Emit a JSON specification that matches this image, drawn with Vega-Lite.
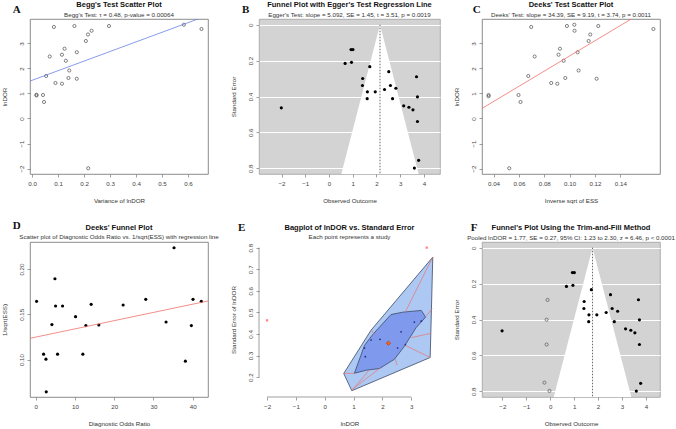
{
  "$schema": "https://vega.github.io/schema/vega-lite/v6.json",
  "padding": 0,
  "background": "white",
  "config": {
    "font": "Liberation Sans",
    "view": {"stroke": "#6e6e6e", "strokeWidth": 0.8},
    "axis": {"grid": false, "domain": false, "tickCount": 20, "labelFontSize": 6.2, "titleFontSize": 6.2, "titleFontWeight": "normal", "labelColor": "#444", "titleColor": "#333", "tickColor": "#777", "domainColor": "#777", "domainWidth": 0.7, "tickSize": 3, "tickWidth": 0.7, "labelPadding": 3, "titlePadding": 11, "labelFlush": false, "labelOverlap": false, "labelBound": false},
    "axisY": {"labelAngle": 270, "labelAlign": "center", "labelBaseline": "bottom"},
    "title": {"fontSize": 7.5, "fontWeight": "bold", "subtitleFontSize": 6.2, "subtitlePadding": 3, "offset": -13.7, "frame": "group", "anchor": "middle", "color": "#111", "subtitleColor": "#333", "font": "Liberation Sans", "subtitleFont": "Liberation Sans"}
  },
  "datasets": {
    "study": [
      {"lnDOR": -2.01, "se": 0.462}, {"lnDOR": 0.93, "se": 0.138}, {"lnDOR": 1.01, "se": 0.138}, {"lnDOR": 0.68, "se": 0.215},
      {"lnDOR": 0.95, "se": 0.209}, {"lnDOR": 1.72, "se": 0.233}, {"lnDOR": 1.42, "se": 0.299}, {"lnDOR": 1.41, "se": 0.338},
      {"lnDOR": 1.62, "se": 0.373}, {"lnDOR": 1.61, "se": 0.411}, {"lnDOR": 1.95, "se": 0.373}, {"lnDOR": 2.34, "se": 0.360},
      {"lnDOR": 2.52, "se": 0.261}, {"lnDOR": 2.59, "se": 0.338}, {"lnDOR": 2.68, "se": 0.411}, {"lnDOR": 2.82, "se": 0.353},
      {"lnDOR": 3.15, "se": 0.451}, {"lnDOR": 3.37, "se": 0.459}, {"lnDOR": 3.54, "se": 0.473}, {"lnDOR": 3.69, "se": 0.289},
      {"lnDOR": 3.73, "se": 0.401}, {"lnDOR": 3.73, "se": 0.538}, {"lnDOR": 3.78, "se": 0.754}, {"lnDOR": 3.60, "se": 0.797}
    ],
    "begg": [
      {"v": 0.084, "y": 3.66}, {"v": 0.163, "y": 3.70}, {"v": 0.296, "y": 3.70}, {"v": 0.584, "y": 3.75}, {"v": 0.652, "y": 3.58},
      {"v": 0.229, "y": 3.51}, {"v": 0.215, "y": 3.36}, {"v": 0.207, "y": 3.10}, {"v": 0.125, "y": 2.79}, {"v": 0.068, "y": 2.48},
      {"v": 0.172, "y": 2.65}, {"v": 0.115, "y": 2.55}, {"v": 0.130, "y": 2.31}, {"v": 0.143, "y": 1.92}, {"v": 0.054, "y": 1.70},
      {"v": 0.090, "y": 1.42}, {"v": 0.115, "y": 1.39}, {"v": 0.140, "y": 1.62}, {"v": 0.172, "y": 1.59}, {"v": 0.017, "y": 0.95},
      {"v": 0.017, "y": 0.92}, {"v": 0.042, "y": 0.94}, {"v": 0.046, "y": 0.66}, {"v": 0.216, "y": -1.99}
    ],
    "beggLine": [{"x": -0.01, "y": 1.49}, {"x": 0.68, "y": 4.14}],
    "funnelB": [{"se": 0, "lo": 2.15, "hi": 2.15, "c": 2.15}, {"se": 0.83, "lo": 0.52, "hi": 3.78, "c": 2.15}],
    "deeks": [
      {"x": 0.0361, "y": 0.94}, {"x": 0.0361, "y": 0.89}, {"x": 0.0524, "y": -1.99}, {"x": 0.0597, "y": 0.94}, {"x": 0.0613, "y": 0.66},
      {"x": 0.0674, "y": 1.70}, {"x": 0.0697, "y": 3.66}, {"x": 0.0724, "y": 2.48}, {"x": 0.0855, "y": 1.42}, {"x": 0.0903, "y": 1.39},
      {"x": 0.0913, "y": 2.55}, {"x": 0.0924, "y": 2.79}, {"x": 0.0953, "y": 2.31}, {"x": 0.0966, "y": 1.62}, {"x": 0.0979, "y": 3.70},
      {"x": 0.1037, "y": 3.75}, {"x": 0.1039, "y": 3.51}, {"x": 0.1063, "y": 2.65}, {"x": 0.1071, "y": 1.92}, {"x": 0.1150, "y": 3.10},
      {"x": 0.1163, "y": 3.36}, {"x": 0.1213, "y": 1.59}, {"x": 0.1226, "y": 3.70}, {"x": 0.1661, "y": 3.58}
    ],
    "deeksLine": [{"x": 0.0305, "y": 0.39}, {"x": 0.172, "y": 4.69}],
    "dfun": [
      {"dor": 0.25, "inv": 0.1643}, {"dor": 2.03, "inv": 0.1059}, {"dor": 2.63, "inv": 0.1004}, {"dor": 2.71, "inv": 0.0643},
      {"dor": 4.15, "inv": 0.1386}, {"dor": 4.92, "inv": 0.1893}, {"dor": 5.08, "inv": 0.1592}, {"dor": 5.59, "inv": 0.1059},
      {"dor": 6.86, "inv": 0.1592}, {"dor": 10.17, "inv": 0.1474}, {"dor": 12.03, "inv": 0.1059}, {"dor": 12.80, "inv": 0.1375},
      {"dor": 14.15, "inv": 0.1610}, {"dor": 16.10, "inv": 0.1382}, {"dor": 22.29, "inv": 0.1603}, {"dor": 28.05, "inv": 0.1665},
      {"dor": 33.22, "inv": 0.1415}, {"dor": 35.25, "inv": 0.2235}, {"dor": 38.14, "inv": 0.0982}, {"dor": 39.66, "inv": 0.1375},
      {"dor": 40.08, "inv": 0.1665}, {"dor": 42.20, "inv": 0.1643}
    ],
    "dLine": [{"x": -1.5, "y": 0.1234}, {"x": 44, "y": 0.1648}],
    "eLoop": [
      {"o": 1, "x": 3.75, "y": 0.756}, {"o": 2, "x": 3.66, "y": 0.291}, {"o": 3, "x": 0.94, "y": 0.137},
      {"o": 4, "x": 0.66, "y": 0.217}, {"o": 5, "x": 1.61, "y": 0.418}
    ],
    "eBag": [
      {"o": 1, "x": 1.03, "y": 0.218}, {"o": 2, "x": 1.38, "y": 0.347}, {"o": 3, "x": 1.67, "y": 0.398}, {"o": 4, "x": 2.30, "y": 0.490},
      {"o": 5, "x": 2.71, "y": 0.501}, {"o": 6, "x": 3.35, "y": 0.509}, {"o": 7, "x": 3.50, "y": 0.478}, {"o": 8, "x": 3.17, "y": 0.429},
      {"o": 9, "x": 2.77, "y": 0.344}, {"o": 10, "x": 2.42, "y": 0.283}, {"o": 11, "x": 1.90, "y": 0.240}, {"o": 12, "x": 1.44, "y": 0.232}
    ],
    "eWhisk": [
      {"x": 3.75, "y": 0.756, "x2": 2.80, "y2": 0.503}, {"x": 3.73, "y": 0.518, "x2": 3.50, "y2": 0.479},
      {"x": 3.69, "y": 0.403, "x2": 3.00, "y2": 0.383}, {"x": 3.66, "y": 0.291, "x2": 2.80, "y2": 0.347},
      {"x": 2.45, "y": 0.283, "x2": 2.51, "y2": 0.255}, {"x": 0.94, "y": 0.137, "x2": 1.55, "y2": 0.234},
      {"x": 0.97, "y": 0.145, "x2": 1.90, "y2": 0.240}, {"x": 0.66, "y": 0.217, "x2": 1.03, "y2": 0.218},
      {"x": 1.61, "y": 0.418, "x2": 1.73, "y2": 0.398}
    ],
    "eIn": [
      {"x": 1.61, "y": 0.372}, {"x": 1.92, "y": 0.375}, {"x": 1.38, "y": 0.335}, {"x": 1.41, "y": 0.295}, {"x": 2.65, "y": 0.410},
      {"x": 2.53, "y": 0.335}, {"x": 2.80, "y": 0.351}, {"x": 3.11, "y": 0.455}, {"x": 3.35, "y": 0.459}
    ],
    "eOut": [{"x": -2.0, "y": 0.463}, {"x": 3.54, "y": 0.80}],
    "eMed": [{"x": 2.21, "y": 0.357}],
    "funnelF": [{"se": 0, "lo": 1.77, "hi": 1.77, "c": 1.77}, {"se": 0.83, "lo": 0.15, "hi": 3.39, "c": 1.77}],
    "filledF": [
      {"lnDOR": -0.11, "se": 0.290}, {"lnDOR": -0.15, "se": 0.400}, {"lnDOR": -0.15, "se": 0.538},
      {"lnDOR": -0.24, "se": 0.750}, {"lnDOR": -0.03, "se": 0.796}
    ]
  },
  "concat": [
    {
      "width": 178, "height": 155,
      "title": {"text": "Begg's Test Scatter Plot", "subtitle": "Begg's Test: τ = 0.48, p-value = 0.00064"},
      "layer": [
        {"data": {"name": "begg"}, "mark": {"type": "point", "shape": "circle", "size": 10, "strokeWidth": 0.6, "color": "#333", "filled": false, "opacity": 1},
         "encoding": {
           "x": {"field": "v", "type": "quantitative", "scale": {"domain": [-0.008, 0.677], "nice": false, "zero": false}, "axis": {"values": [0, 0.1, 0.2, 0.3, 0.4, 0.5, 0.6], "tickCount": 20, "format": ".1f", "title": "Variance of lnDOR"}},
           "y": {"field": "y", "type": "quantitative", "scale": {"domain": [-2.22, 3.98], "nice": false, "zero": false}, "axis": {"values": [-2, -1, 0, 1, 2, 3], "tickCount": 20, "format": "d", "title": "lnDOR"}}}},
        {"data": {"name": "beggLine"}, "mark": {"type": "line", "color": "#6a82e6", "strokeWidth": 0.8, "clip": true},
         "encoding": {"x": {"field": "x", "type": "quantitative"}, "y": {"field": "y", "type": "quantitative"}}},
        {"data": {"values": [{"label": "A"}]}, "mark": {"type": "text", "font": "Liberation Serif", "fontWeight": "bold", "fontSize": 11, "color": "#111"},
         "encoding": {
           "x": {"datum": -0.059, "type": "quantitative", "axis": {"values": [0, 0.1, 0.2, 0.3, 0.4, 0.5, 0.6], "tickCount": 20, "format": ".1f", "title": "Variance of lnDOR"}},
           "y": {"datum": 4.34, "type": "quantitative", "axis": {"values": [-2, -1, 0, 1, 2, 3], "tickCount": 20, "format": "d", "title": "lnDOR"}},
           "text": {"field": "label"}}}
      ]
    },
    {"width": 51, "height": 155, "view": {"stroke": null}, "data": {"values": []}, "mark": "point"},
    {
      "width": 181, "height": 155,
      "view": {"fill": "#d3d3d3", "stroke": "#a0a0a0"},
      "title": {"text": "Funnel Plot with Egger's Test Regression Line", "subtitle": "Egger's Test: slope = 5.092, SE = 1.45, t = 3.51, p = 0.0019"},
      "layer": [
        {"data": {"name": "funnelB"}, "mark": {"type": "area", "orient": "horizontal", "color": "white", "opacity": 1},
         "encoding": {
           "y": {"field": "se", "type": "quantitative", "scale": {"domain": [-0.032, 0.83], "reverse": true, "nice": false, "zero": false}, "axis": {"values": [0, 0.199, 0.399, 0.598, 0.798], "tickCount": 20, "format": "~g", "title": "Standard Error", "grid": true, "gridColor": "white", "gridWidth": 1}},
           "x": {"field": "lo", "type": "quantitative", "scale": {"domain": [-2.95, 4.68], "nice": false, "zero": false}, "axis": {"values": [-2, -1, 0, 1, 2, 3, 4], "tickCount": 20, "format": "d", "title": "Observed Outcome"}},
           "x2": {"field": "hi"}}},
        {"data": {"name": "funnelB"}, "mark": {"type": "line", "color": "#444", "strokeWidth": 0.8, "strokeDash": [1.5, 1.5]},
         "encoding": {"x": {"field": "c", "type": "quantitative"}, "y": {"field": "se", "type": "quantitative"}}},
        {"data": {"name": "study"}, "mark": {"type": "circle", "size": 10, "color": "#000", "opacity": 1},
         "encoding": {"x": {"field": "lnDOR", "type": "quantitative"}, "y": {"field": "se", "type": "quantitative"}}},
        {"data": {"values": [{"label": "B"}]}, "mark": {"type": "text", "font": "Liberation Serif", "fontWeight": "bold", "fontSize": 11, "color": "#111"},
         "encoding": {
           "x": {"datum": -3.51, "type": "quantitative", "axis": {"values": [-2, -1, 0, 1, 2, 3, 4], "tickCount": 20, "format": "d", "title": "Observed Outcome"}},
           "y": {"datum": -0.082, "type": "quantitative", "axis": {"values": [0, 0.199, 0.399, 0.598, 0.798], "tickCount": 20, "format": "~g", "title": "Standard Error", "grid": true, "gridColor": "white", "gridWidth": 1}},
           "text": {"field": "label"}}}
      ]
    },
    {"width": 42, "height": 155, "view": {"stroke": null}, "data": {"values": []}, "mark": "point"},
    {
      "width": 178, "height": 155,
      "title": {"text": "Deeks' Test Scatter Plot", "subtitle": "Deeks' Test: slope = 34.39, SE = 9.19, t = 3.74, p = 0.0011"},
      "layer": [
        {"data": {"name": "deeks"}, "mark": {"type": "point", "shape": "circle", "size": 10, "strokeWidth": 0.6, "color": "#333", "filled": false, "opacity": 1},
         "encoding": {
           "x": {"field": "x", "type": "quantitative", "scale": {"domain": [0.0309, 0.1713], "nice": false, "zero": false}, "axis": {"values": [0.04, 0.06, 0.08, 0.10, 0.12, 0.14], "tickCount": 20, "format": ".2f", "title": "Inverse sqrt of ESS"}},
           "y": {"field": "y", "type": "quantitative", "scale": {"domain": [-2.22, 3.98], "nice": false, "zero": false}, "axis": {"values": [-2, -1, 0, 1, 2, 3], "tickCount": 20, "format": "d", "title": "lnDOR"}}}},
        {"data": {"name": "deeksLine"}, "mark": {"type": "line", "color": "#ef7268", "strokeWidth": 0.8, "clip": true},
         "encoding": {"x": {"field": "x", "type": "quantitative"}, "y": {"field": "y", "type": "quantitative"}}},
        {"data": {"values": [{"label": "C"}]}, "mark": {"type": "text", "font": "Liberation Serif", "fontWeight": "bold", "fontSize": 11, "color": "#111"},
         "encoding": {
           "x": {"datum": 0.0267, "type": "quantitative", "axis": {"values": [0.04, 0.06, 0.08, 0.10, 0.12, 0.14], "tickCount": 20, "format": ".2f", "title": "Inverse sqrt of ESS"}},
           "y": {"datum": 4.34, "type": "quantitative", "axis": {"values": [-2, -1, 0, 1, 2, 3], "tickCount": 20, "format": "d", "title": "lnDOR"}},
           "text": {"field": "label"}}}
      ]
    },
    {
      "width": 178, "height": 155,
      "title": {"text": "Deeks' Funnel Plot", "subtitle": "Scatter plot of Diagnostic Odds Ratio vs. 1/sqrt(ESS) with regression line", "offset": -20.7},
      "layer": [
        {"data": {"name": "dfun"}, "mark": {"type": "circle", "size": 10, "color": "#000", "opacity": 1},
         "encoding": {
           "x": {"field": "dor", "type": "quantitative", "scale": {"domain": [-1.43, 43.9], "nice": false, "zero": false}, "axis": {"values": [0, 10, 20, 30, 40], "tickCount": 20, "format": "d", "title": "Diagnostic Odds Ratio"}},
           "y": {"field": "inv", "type": "quantitative", "scale": {"domain": [0.0586, 0.2299], "nice": false, "zero": false}, "axis": {"values": [0.10, 0.15, 0.20], "tickCount": 20, "format": ".2f", "title": "1/sqrt(ESS)"}}}},
        {"data": {"name": "dLine"}, "mark": {"type": "line", "color": "#ef7268", "strokeWidth": 0.8, "clip": true},
         "encoding": {"x": {"field": "x", "type": "quantitative"}, "y": {"field": "y", "type": "quantitative"}}},
        {"data": {"values": [{"label": "D"}]}, "mark": {"type": "text", "font": "Liberation Serif", "fontWeight": "bold", "fontSize": 11, "color": "#111"},
         "encoding": {
           "x": {"datum": -4.82, "type": "quantitative", "axis": {"values": [0, 10, 20, 30, 40], "tickCount": 20, "format": "d", "title": "Diagnostic Odds Ratio"}},
           "y": {"datum": 0.2476, "type": "quantitative", "axis": {"values": [0.10, 0.15, 0.20], "tickCount": 20, "format": ".2f", "title": "1/sqrt(ESS)"}},
           "text": {"field": "label"}}}
      ]
    },
    {"width": 51, "height": 155, "view": {"stroke": null}, "data": {"values": []}, "mark": "point"},
    {
      "width": 181, "height": 155,
      "view": {"stroke": null},
      "title": {"text": "Bagplot of lnDOR vs. Standard Error", "subtitle": "Each point represents a study", "offset": -18.7},
      "layer": [
        {"data": {"name": "eLoop"}, "mark": {"type": "line", "interpolate": "linear-closed", "fill": "#aec8f4", "stroke": "#3b4a66", "strokeWidth": 0.8},
         "encoding": {
           "x": {"field": "x", "type": "quantitative", "scale": {"domain": [-2.28, 4.0], "nice": false, "zero": false}, "axis": {"values": [-2, -1, 0, 1, 2, 3], "tickCount": 20, "format": "d", "title": "lnDOR"}},
           "y": {"field": "y", "type": "quantitative", "scale": {"domain": [0.108, 0.826], "nice": false, "zero": false}, "axis": {"values": [0.2, 0.3, 0.4, 0.5, 0.6, 0.7, 0.8], "tickCount": 20, "format": ".1f", "title": "Standard Error of lnDOR"}},
           "order": {"field": "o"}}},
        {"data": {"name": "eBag"}, "mark": {"type": "line", "interpolate": "linear-closed", "fill": "#7f99ec", "stroke": "#3b4a66", "strokeWidth": 0.8},
         "encoding": {"x": {"field": "x", "type": "quantitative"}, "y": {"field": "y", "type": "quantitative"}, "order": {"field": "o"}}},
        {"data": {"name": "eWhisk"}, "mark": {"type": "rule", "color": "#e8736b", "strokeWidth": 0.7},
         "encoding": {"x": {"field": "x", "type": "quantitative"}, "y": {"field": "y", "type": "quantitative"}, "x2": {"field": "x2"}, "y2": {"field": "y2"}}},
        {"data": {"name": "eIn"}, "mark": {"type": "circle", "size": 3, "color": "#1c2a80", "opacity": 1},
         "encoding": {"x": {"field": "x", "type": "quantitative"}, "y": {"field": "y", "type": "quantitative"}}},
        {"data": {"name": "eOut"}, "mark": {"type": "square", "size": 5, "color": "#ff8080", "opacity": 1},
         "encoding": {"x": {"field": "x", "type": "quantitative"}, "y": {"field": "y", "type": "quantitative"}}},
        {"data": {"name": "eMed"}, "mark": {"type": "point", "shape": "diamond", "size": 18, "filled": true, "fill": "#ff6a00", "stroke": "#c0200a", "strokeWidth": 0.6, "opacity": 1},
         "encoding": {"x": {"field": "x", "type": "quantitative"}, "y": {"field": "y", "type": "quantitative"}}},
        {"data": {"values": [{}]}, "mark": {"type": "rule", "color": "#777", "strokeWidth": 0.7},
         "encoding": {
           "x": {"datum": -2, "type": "quantitative", "axis": {"values": [-2, -1, 0, 1, 2, 3], "tickCount": 20, "format": "d", "title": "lnDOR"}},
           "x2": {"datum": 3},
           "y": {"datum": 0.108, "type": "quantitative", "axis": {"values": [0.2, 0.3, 0.4, 0.5, 0.6, 0.7, 0.8], "tickCount": 20, "format": ".1f", "title": "Standard Error of lnDOR"}}}},
        {"data": {"values": [{}]}, "mark": {"type": "rule", "color": "#777", "strokeWidth": 0.7},
         "encoding": {
           "y": {"datum": 0.2, "type": "quantitative", "axis": {"values": [0.2, 0.3, 0.4, 0.5, 0.6, 0.7, 0.8], "tickCount": 20, "format": ".1f", "title": "Standard Error of lnDOR"}},
           "y2": {"datum": 0.8},
           "x": {"datum": -2.28, "type": "quantitative", "axis": {"values": [-2, -1, 0, 1, 2, 3], "tickCount": 20, "format": "d", "title": "lnDOR"}}}},
        {"data": {"values": [{"label": "E"}]}, "mark": {"type": "text", "font": "Liberation Serif", "fontWeight": "bold", "fontSize": 11, "color": "#111"},
         "encoding": {
           "x": {"datum": -2.88, "type": "quantitative", "axis": {"values": [-2, -1, 0, 1, 2, 3], "tickCount": 20, "format": "d", "title": "lnDOR"}},
           "y": {"datum": 0.891, "type": "quantitative", "axis": {"values": [0.2, 0.3, 0.4, 0.5, 0.6, 0.7, 0.8], "tickCount": 20, "format": ".1f", "title": "Standard Error of lnDOR"}},
           "text": {"field": "label"}}}
      ]
    },
    {"width": 42, "height": 155, "view": {"stroke": null}, "data": {"values": []}, "mark": "point"},
    {
      "width": 178, "height": 155,
      "view": {"fill": "#d3d3d3", "stroke": "#a0a0a0"},
      "title": {"text": "Funnel's Plot Using the Trim-and-Fill Method", "subtitle": "Pooled lnDOR = 1.77, SE = 0.27, 95% CI: 1.23 to 2.30, z = 6.46, p < 0.0001", "offset": -19},
      "layer": [
        {"data": {"name": "funnelF"}, "mark": {"type": "area", "orient": "horizontal", "color": "white", "opacity": 1},
         "encoding": {
           "y": {"field": "se", "type": "quantitative", "scale": {"domain": [-0.032, 0.83], "reverse": true, "nice": false, "zero": false}, "axis": {"values": [0, 0.199, 0.399, 0.598, 0.798], "tickCount": 20, "format": "~g", "title": "Standard Error", "grid": true, "gridColor": "white", "gridWidth": 1}},
           "x": {"field": "lo", "type": "quantitative", "scale": {"domain": [-2.85, 4.59], "nice": false, "zero": false}, "axis": {"values": [-2, -1, 0, 1, 2, 3, 4], "tickCount": 20, "format": "d", "title": "Observed Outcome"}},
           "x2": {"field": "hi"}}},
        {"data": {"name": "funnelF"}, "mark": {"type": "line", "color": "#444", "strokeWidth": 0.8, "strokeDash": [1.5, 1.5]},
         "encoding": {"x": {"field": "c", "type": "quantitative"}, "y": {"field": "se", "type": "quantitative"}}},
        {"data": {"name": "study"}, "mark": {"type": "circle", "size": 10, "color": "#000", "opacity": 1},
         "encoding": {"x": {"field": "lnDOR", "type": "quantitative"}, "y": {"field": "se", "type": "quantitative"}}},
        {"data": {"name": "filledF"}, "mark": {"type": "point", "shape": "circle", "size": 10, "strokeWidth": 0.6, "color": "#444", "filled": false, "opacity": 1},
         "encoding": {"x": {"field": "lnDOR", "type": "quantitative"}, "y": {"field": "se", "type": "quantitative"}}},
        {"data": {"values": [{"label": "F"}]}, "mark": {"type": "text", "font": "Liberation Serif", "fontWeight": "bold", "fontSize": 11, "color": "#111"},
         "encoding": {
           "x": {"datum": -3.18, "type": "quantitative", "axis": {"values": [-2, -1, 0, 1, 2, 3, 4], "tickCount": 20, "format": "d", "title": "Observed Outcome"}},
           "y": {"datum": -0.111, "type": "quantitative", "axis": {"values": [0, 0.199, 0.399, 0.598, 0.798], "tickCount": 20, "format": "~g", "title": "Standard Error", "grid": true, "gridColor": "white", "gridWidth": 1}},
           "text": {"field": "label"}}}
      ]
    }
  ],
  "columns": 5,
  "spacing": {"row": 68, "column": 0},
  "bounds": "flush"
}
